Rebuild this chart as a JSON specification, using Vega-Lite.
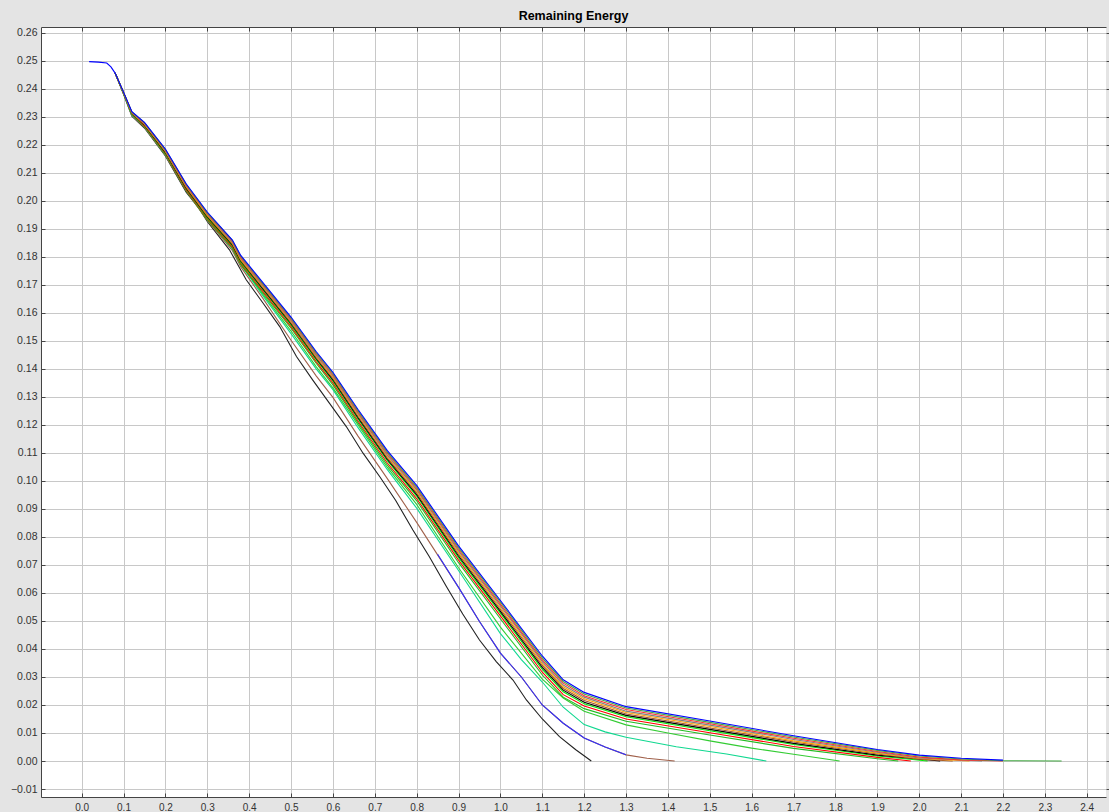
{
  "$schema": "https://vega.github.io/schema/vega-lite/v6.json",
  "width": 1065,
  "height": 770,
  "autosize": {"type": "none"},
  "padding": {"left": 41, "top": 27, "right": 3, "bottom": 15},
  "background": "#e4e4e4",
  "title": {"text": "Remaining Energy", "font": "Liberation Sans", "fontSize": 12.5, "fontWeight": "bold", "color": "#000000", "anchor": "middle", "offset": 4},
  "config": {
    "view": {"stroke": null, "fill": "#ffffff"},
    "axis": {"labelFont": "Liberation Sans", "labelFontSize": 10.5, "labelColor": "#333333", "domainColor": "#444444", "tickColor": "#444444", "gridColor": "#c8c8c8", "gridWidth": 1, "title": null, "labelOverlap": false, "labelFlush": false}
  },
  "data": {"values": [
    {"s":"a1","x":0.08,"y":0.2456},{"s":"a1","x":0.1,"y":0.2381},{"s":"a1","x":0.12,"y":0.2302},{"s":"a1","x":0.15,"y":0.226},{"s":"a1","x":0.2,"y":0.216},{"s":"a1","x":0.25,"y":0.203},{"s":"a1","x":0.28,"y":0.1974},{"s":"a1","x":0.3,"y":0.1926},{"s":"a1","x":0.353,"y":0.1825},{"s":"a1","x":0.393,"y":0.1718},{"s":"a1","x":0.433,"y":0.1635},{"s":"a1","x":0.473,"y":0.1551},{"s":"a1","x":0.513,"y":0.1444},{"s":"a1","x":0.552,"y":0.136},{"s":"a1","x":0.592,"y":0.1277},{"s":"a1","x":0.632,"y":0.1194},{"s":"a1","x":0.672,"y":0.1099},{"s":"a1","x":0.712,"y":0.1015},{"s":"a1","x":0.75,"y":0.093},{"s":"a1","x":0.791,"y":0.0825},{"s":"a1","x":0.83,"y":0.073},{"s":"a1","x":0.871,"y":0.0623},{"s":"a1","x":0.91,"y":0.0525},{"s":"a1","x":0.95,"y":0.0432},{"s":"a1","x":0.99,"y":0.0355},{"s":"a1","x":1.03,"y":0.0289},{"s":"a1","x":1.062,"y":0.0218},{"s":"a1","x":1.1,"y":0.015},{"s":"a1","x":1.141,"y":0.0087},{"s":"a1","x":1.18,"y":0.004},{"s":"a1","x":1.217,"y":0.0},
    {"s":"a2","x":0.08,"y":0.2456},{"s":"a2","x":0.1,"y":0.2382},{"s":"a2","x":0.12,"y":0.2304},{"s":"a2","x":0.15,"y":0.2262},{"s":"a2","x":0.2,"y":0.2162},{"s":"a2","x":0.25,"y":0.2034},{"s":"a2","x":0.3,"y":0.193},{"s":"a2","x":0.36,"y":0.1822},{"s":"a2","x":0.38,"y":0.1764},{"s":"a2","x":0.43,"y":0.1658},{"s":"a2","x":0.5,"y":0.1502},{"s":"a2","x":0.56,"y":0.1375},{"s":"a2","x":0.6,"y":0.1298},{"s":"a2","x":0.66,"y":0.116},{"s":"a2","x":0.73,"y":0.1008},{"s":"a2","x":0.8,"y":0.0852},{"s":"a2","x":0.9,"y":0.062},{"s":"a2","x":0.95,"y":0.0498},{"s":"a2","x":1.0,"y":0.0385},{"s":"a2","x":1.05,"y":0.03},{"s":"a2","x":1.1,"y":0.02},{"s":"a2","x":1.15,"y":0.0135},{"s":"a2","x":1.2,"y":0.0082},{"s":"a2","x":1.25,"y":0.005},{"s":"a2","x":1.3,"y":0.0022},{"s":"a2","x":1.35,"y":0.001},{"s":"a2","x":1.416,"y":0.0},
    {"s":"a3","x":0.85,"y":0.0738},{"s":"a3","x":0.9,"y":0.062},{"s":"a3","x":0.95,"y":0.0498},{"s":"a3","x":1.0,"y":0.0385},{"s":"a3","x":1.05,"y":0.03},{"s":"a3","x":1.1,"y":0.02},{"s":"a3","x":1.15,"y":0.0135},{"s":"a3","x":1.2,"y":0.0082},{"s":"a3","x":1.25,"y":0.005},{"s":"a3","x":1.3,"y":0.0022},
    {"s":"a4","x":0.08,"y":0.2456},{"s":"a4","x":0.1,"y":0.2383},{"s":"a4","x":0.12,"y":0.2306},{"s":"a4","x":0.15,"y":0.2265},{"s":"a4","x":0.2,"y":0.2165},{"s":"a4","x":0.25,"y":0.2038},{"s":"a4","x":0.3,"y":0.1936},{"s":"a4","x":0.36,"y":0.1828},{"s":"a4","x":0.38,"y":0.1772},{"s":"a4","x":0.43,"y":0.1667},{"s":"a4","x":0.5,"y":0.1526},{"s":"a4","x":0.56,"y":0.14},{"s":"a4","x":0.6,"y":0.1326},{"s":"a4","x":0.66,"y":0.119},{"s":"a4","x":0.73,"y":0.104},{"s":"a4","x":0.8,"y":0.0903},{"s":"a4","x":0.9,"y":0.068},{"s":"a4","x":1.0,"y":0.0455},{"s":"a4","x":1.05,"y":0.0362},{"s":"a4","x":1.1,"y":0.0282},{"s":"a4","x":1.15,"y":0.0192},{"s":"a4","x":1.2,"y":0.013},{"s":"a4","x":1.25,"y":0.0104},{"s":"a4","x":1.3,"y":0.0085},{"s":"a4","x":1.42,"y":0.0051},{"s":"a4","x":1.54,"y":0.0025},{"s":"a4","x":1.635,"y":0.0},
    {"s":"a5","x":0.08,"y":0.2456},{"s":"a5","x":0.1,"y":0.2384},{"s":"a5","x":0.12,"y":0.2308},{"s":"a5","x":0.15,"y":0.2268},{"s":"a5","x":0.2,"y":0.2168},{"s":"a5","x":0.25,"y":0.2042},{"s":"a5","x":0.3,"y":0.1942},{"s":"a5","x":0.36,"y":0.1834},{"s":"a5","x":0.38,"y":0.1775},{"s":"a5","x":0.43,"y":0.1672},{"s":"a5","x":0.5,"y":0.1535},{"s":"a5","x":0.56,"y":0.1408},{"s":"a5","x":0.6,"y":0.1332},{"s":"a5","x":0.66,"y":0.12},{"s":"a5","x":0.73,"y":0.1048},{"s":"a5","x":0.8,"y":0.0916},{"s":"a5","x":0.9,"y":0.069},{"s":"a5","x":1.0,"y":0.0478},{"s":"a5","x":1.1,"y":0.0292},{"s":"a5","x":1.15,"y":0.0225},{"s":"a5","x":1.2,"y":0.0178},{"s":"a5","x":1.3,"y":0.0129},{"s":"a5","x":1.4,"y":0.01},{"s":"a5","x":1.5,"y":0.0072},{"s":"a5","x":1.6,"y":0.0046},{"s":"a5","x":1.7,"y":0.0024},{"s":"a5","x":1.81,"y":0.0},
    {"s":"b01","x":0.08,"y":0.2456},{"s":"b01","x":0.1,"y":0.2384},{"s":"b01","x":0.12,"y":0.2308},{"s":"b01","x":0.15,"y":0.2265},{"s":"b01","x":0.2,"y":0.2165},{"s":"b01","x":0.25,"y":0.2035},{"s":"b01","x":0.3,"y":0.1932},{"s":"b01","x":0.36,"y":0.183},{"s":"b01","x":0.38,"y":0.1771},{"s":"b01","x":0.43,"y":0.1677},{"s":"b01","x":0.5,"y":0.1545},{"s":"b01","x":0.56,"y":0.142},{"s":"b01","x":0.6,"y":0.1343},{"s":"b01","x":0.66,"y":0.1207},{"s":"b01","x":0.73,"y":0.1056},{"s":"b01","x":0.8,"y":0.0929},{"s":"b01","x":0.9,"y":0.0708},{"s":"b01","x":1.0,"y":0.0508},{"s":"b01","x":1.1,"y":0.0307},{"s":"b01","x":1.15,"y":0.0228},{"s":"b01","x":1.2,"y":0.0187},{"s":"b01","x":1.3,"y":0.0142},{"s":"b01","x":1.5,"y":0.0093},{"s":"b01","x":1.7,"y":0.0045},{"s":"b01","x":1.9,"y":0.0008},{"s":"b01","x":1.95,"y":0.0},
    {"s":"b02","x":0.08,"y":0.2456},{"s":"b02","x":0.1,"y":0.2385},{"s":"b02","x":0.12,"y":0.231},{"s":"b02","x":0.15,"y":0.2267},{"s":"b02","x":0.2,"y":0.2168},{"s":"b02","x":0.25,"y":0.2039},{"s":"b02","x":0.3,"y":0.1936},{"s":"b02","x":0.36,"y":0.1835},{"s":"b02","x":0.38,"y":0.1776},{"s":"b02","x":0.43,"y":0.1682},{"s":"b02","x":0.5,"y":0.1551},{"s":"b02","x":0.56,"y":0.1426},{"s":"b02","x":0.6,"y":0.135},{"s":"b02","x":0.66,"y":0.1214},{"s":"b02","x":0.73,"y":0.1064},{"s":"b02","x":0.8,"y":0.0937},{"s":"b02","x":0.9,"y":0.0717},{"s":"b02","x":1.0,"y":0.0518},{"s":"b02","x":1.1,"y":0.0317},{"s":"b02","x":1.15,"y":0.0237},{"s":"b02","x":1.2,"y":0.0196},{"s":"b02","x":1.3,"y":0.015},{"s":"b02","x":1.5,"y":0.0101},{"s":"b02","x":1.7,"y":0.0052},{"s":"b02","x":1.9,"y":0.0013},{"s":"b02","x":1.98,"y":0.0},
    {"s":"b03","x":0.08,"y":0.2456},{"s":"b03","x":0.1,"y":0.2385},{"s":"b03","x":0.12,"y":0.2311},{"s":"b03","x":0.15,"y":0.227},{"s":"b03","x":0.2,"y":0.2171},{"s":"b03","x":0.25,"y":0.2043},{"s":"b03","x":0.3,"y":0.194},{"s":"b03","x":0.36,"y":0.184},{"s":"b03","x":0.38,"y":0.1781},{"s":"b03","x":0.43,"y":0.1688},{"s":"b03","x":0.5,"y":0.1557},{"s":"b03","x":0.56,"y":0.1433},{"s":"b03","x":0.6,"y":0.1357},{"s":"b03","x":0.66,"y":0.1221},{"s":"b03","x":0.73,"y":0.1072},{"s":"b03","x":0.8,"y":0.0946},{"s":"b03","x":0.9,"y":0.0726},{"s":"b03","x":1.0,"y":0.0528},{"s":"b03","x":1.1,"y":0.0327},{"s":"b03","x":1.15,"y":0.0247},{"s":"b03","x":1.2,"y":0.0204},{"s":"b03","x":1.3,"y":0.0158},{"s":"b03","x":1.5,"y":0.0108},{"s":"b03","x":1.7,"y":0.0059},{"s":"b03","x":1.9,"y":0.0018},{"s":"b03","x":2.02,"y":0.0},
    {"s":"b04","x":0.08,"y":0.2456},{"s":"b04","x":0.1,"y":0.2386},{"s":"b04","x":0.12,"y":0.2312},{"s":"b04","x":0.15,"y":0.2271},{"s":"b04","x":0.2,"y":0.2173},{"s":"b04","x":0.25,"y":0.2045},{"s":"b04","x":0.3,"y":0.1943},{"s":"b04","x":0.36,"y":0.1843},{"s":"b04","x":0.38,"y":0.1785},{"s":"b04","x":0.43,"y":0.1691},{"s":"b04","x":0.5,"y":0.1561},{"s":"b04","x":0.56,"y":0.1437},{"s":"b04","x":0.6,"y":0.1361},{"s":"b04","x":0.66,"y":0.1226},{"s":"b04","x":0.73,"y":0.1077},{"s":"b04","x":0.8,"y":0.0951},{"s":"b04","x":0.9,"y":0.0732},{"s":"b04","x":1.0,"y":0.0534},{"s":"b04","x":1.1,"y":0.0334},{"s":"b04","x":1.15,"y":0.0253},{"s":"b04","x":1.2,"y":0.021},{"s":"b04","x":1.3,"y":0.0163},{"s":"b04","x":1.5,"y":0.0113},{"s":"b04","x":1.7,"y":0.0063},{"s":"b04","x":1.9,"y":0.0021},{"s":"b04","x":2.05,"y":0.0},
    {"s":"b05","x":0.08,"y":0.2456},{"s":"b05","x":0.1,"y":0.2386},{"s":"b05","x":0.12,"y":0.2313},{"s":"b05","x":0.15,"y":0.2273},{"s":"b05","x":0.2,"y":0.2175},{"s":"b05","x":0.25,"y":0.2048},{"s":"b05","x":0.3,"y":0.1946},{"s":"b05","x":0.36,"y":0.1846},{"s":"b05","x":0.38,"y":0.1788},{"s":"b05","x":0.43,"y":0.1695},{"s":"b05","x":0.5,"y":0.1565},{"s":"b05","x":0.56,"y":0.1441},{"s":"b05","x":0.6,"y":0.1366},{"s":"b05","x":0.66,"y":0.1231},{"s":"b05","x":0.73,"y":0.1082},{"s":"b05","x":0.8,"y":0.0957},{"s":"b05","x":0.9,"y":0.0738},{"s":"b05","x":1.0,"y":0.0541},{"s":"b05","x":1.1,"y":0.0341},{"s":"b05","x":1.15,"y":0.0259},{"s":"b05","x":1.2,"y":0.0216},{"s":"b05","x":1.3,"y":0.0168},{"s":"b05","x":1.5,"y":0.0118},{"s":"b05","x":1.7,"y":0.0068},{"s":"b05","x":1.9,"y":0.0025},{"s":"b05","x":2.0,"y":0.0006},{"s":"b05","x":2.08,"y":0.0},
    {"s":"b06","x":0.08,"y":0.2456},{"s":"b06","x":0.1,"y":0.2386},{"s":"b06","x":0.12,"y":0.2314},{"s":"b06","x":0.15,"y":0.2274},{"s":"b06","x":0.2,"y":0.2177},{"s":"b06","x":0.25,"y":0.205},{"s":"b06","x":0.3,"y":0.1949},{"s":"b06","x":0.36,"y":0.1849},{"s":"b06","x":0.38,"y":0.1791},{"s":"b06","x":0.43,"y":0.1699},{"s":"b06","x":0.5,"y":0.1569},{"s":"b06","x":0.56,"y":0.1445},{"s":"b06","x":0.6,"y":0.137},{"s":"b06","x":0.66,"y":0.1236},{"s":"b06","x":0.73,"y":0.1087},{"s":"b06","x":0.8,"y":0.0962},{"s":"b06","x":0.9,"y":0.0744},{"s":"b06","x":1.0,"y":0.0547},{"s":"b06","x":1.1,"y":0.0348},{"s":"b06","x":1.15,"y":0.0265},{"s":"b06","x":1.2,"y":0.0222},{"s":"b06","x":1.3,"y":0.0173},{"s":"b06","x":1.5,"y":0.0123},{"s":"b06","x":1.7,"y":0.0072},{"s":"b06","x":1.9,"y":0.0028},{"s":"b06","x":2.0,"y":0.0009},{"s":"b06","x":2.12,"y":0.0},
    {"s":"b07","x":0.08,"y":0.2456},{"s":"b07","x":0.1,"y":0.2387},{"s":"b07","x":0.12,"y":0.2315},{"s":"b07","x":0.15,"y":0.2276},{"s":"b07","x":0.2,"y":0.2179},{"s":"b07","x":0.25,"y":0.2053},{"s":"b07","x":0.3,"y":0.1952},{"s":"b07","x":0.36,"y":0.1852},{"s":"b07","x":0.38,"y":0.1795},{"s":"b07","x":0.43,"y":0.1702},{"s":"b07","x":0.5,"y":0.1573},{"s":"b07","x":0.56,"y":0.1449},{"s":"b07","x":0.6,"y":0.1375},{"s":"b07","x":0.66,"y":0.1241},{"s":"b07","x":0.73,"y":0.1092},{"s":"b07","x":0.8,"y":0.0968},{"s":"b07","x":0.9,"y":0.075},{"s":"b07","x":1.0,"y":0.0554},{"s":"b07","x":1.1,"y":0.0355},{"s":"b07","x":1.15,"y":0.0271},{"s":"b07","x":1.2,"y":0.0228},{"s":"b07","x":1.3,"y":0.0178},{"s":"b07","x":1.5,"y":0.0128},{"s":"b07","x":1.7,"y":0.0077},{"s":"b07","x":1.9,"y":0.0031},{"s":"b07","x":2.0,"y":0.0011},{"s":"b07","x":2.15,"y":0.0},
    {"s":"b08","x":0.08,"y":0.2456},{"s":"b08","x":0.1,"y":0.2387},{"s":"b08","x":0.12,"y":0.2316},{"s":"b08","x":0.15,"y":0.2277},{"s":"b08","x":0.2,"y":0.2181},{"s":"b08","x":0.25,"y":0.2055},{"s":"b08","x":0.3,"y":0.1954},{"s":"b08","x":0.36,"y":0.1856},{"s":"b08","x":0.38,"y":0.1798},{"s":"b08","x":0.43,"y":0.1706},{"s":"b08","x":0.5,"y":0.1577},{"s":"b08","x":0.56,"y":0.1454},{"s":"b08","x":0.6,"y":0.1379},{"s":"b08","x":0.66,"y":0.1245},{"s":"b08","x":0.73,"y":0.1098},{"s":"b08","x":0.8,"y":0.0973},{"s":"b08","x":0.9,"y":0.0756},{"s":"b08","x":1.0,"y":0.056},{"s":"b08","x":1.1,"y":0.0361},{"s":"b08","x":1.15,"y":0.0278},{"s":"b08","x":1.2,"y":0.0233},{"s":"b08","x":1.3,"y":0.0184},{"s":"b08","x":1.5,"y":0.0133},{"s":"b08","x":1.7,"y":0.0081},{"s":"b08","x":1.9,"y":0.0034},{"s":"b08","x":2.0,"y":0.0014},{"s":"b08","x":2.1,"y":0.0004},{"s":"b08","x":2.2,"y":0.0},
    {"s":"b09","x":0.08,"y":0.2456},{"s":"b09","x":0.1,"y":0.2388},{"s":"b09","x":0.12,"y":0.2317},{"s":"b09","x":0.15,"y":0.2279},{"s":"b09","x":0.2,"y":0.2183},{"s":"b09","x":0.25,"y":0.2058},{"s":"b09","x":0.3,"y":0.1957},{"s":"b09","x":0.36,"y":0.1859},{"s":"b09","x":0.38,"y":0.1802},{"s":"b09","x":0.43,"y":0.1709},{"s":"b09","x":0.5,"y":0.1581},{"s":"b09","x":0.56,"y":0.1458},{"s":"b09","x":0.6,"y":0.1384},{"s":"b09","x":0.66,"y":0.125},{"s":"b09","x":0.73,"y":0.1103},{"s":"b09","x":0.8,"y":0.0978},{"s":"b09","x":0.9,"y":0.0762},{"s":"b09","x":1.0,"y":0.0567},{"s":"b09","x":1.1,"y":0.0368},{"s":"b09","x":1.15,"y":0.0284},{"s":"b09","x":1.2,"y":0.0239},{"s":"b09","x":1.3,"y":0.0189},{"s":"b09","x":1.5,"y":0.0138},{"s":"b09","x":1.7,"y":0.0086},{"s":"b09","x":1.9,"y":0.0038},{"s":"b09","x":2.0,"y":0.0018},{"s":"b09","x":2.1,"y":0.0007},{"s":"b09","x":2.2,"y":0.0001},{"s":"b09","x":2.34,"y":0.0},
    {"s":"b10","x":0.018,"y":0.2497},{"s":"b10","x":0.04,"y":0.2495},{"s":"b10","x":0.06,"y":0.2492},{"s":"b10","x":0.07,"y":0.2478},{"s":"b10","x":0.08,"y":0.2456},{"s":"b10","x":0.1,"y":0.2388},{"s":"b10","x":0.12,"y":0.2318},{"s":"b10","x":0.15,"y":0.228},{"s":"b10","x":0.2,"y":0.2185},{"s":"b10","x":0.25,"y":0.206},{"s":"b10","x":0.3,"y":0.196},{"s":"b10","x":0.36,"y":0.186},{"s":"b10","x":0.38,"y":0.1805},{"s":"b10","x":0.43,"y":0.1713},{"s":"b10","x":0.5,"y":0.1585},{"s":"b10","x":0.56,"y":0.1462},{"s":"b10","x":0.6,"y":0.1388},{"s":"b10","x":0.66,"y":0.1255},{"s":"b10","x":0.73,"y":0.1108},{"s":"b10","x":0.8,"y":0.0984},{"s":"b10","x":0.9,"y":0.0768},{"s":"b10","x":1.0,"y":0.0573},{"s":"b10","x":1.1,"y":0.0375},{"s":"b10","x":1.15,"y":0.029},{"s":"b10","x":1.2,"y":0.0245},{"s":"b10","x":1.3,"y":0.0194},{"s":"b10","x":1.5,"y":0.0143},{"s":"b10","x":1.7,"y":0.009},{"s":"b10","x":1.9,"y":0.0041},{"s":"b10","x":2.0,"y":0.0021},{"s":"b10","x":2.1,"y":0.001},{"s":"b10","x":2.2,"y":0.0003}
  ]},
  "layer": [
    {
      "mark": {"type": "line", "strokeWidth": 1.1, "clip": true},
      "encoding": {
        "x": {"field": "x", "type": "quantitative", "scale": {"domain": [-0.097, 2.446], "nice": false, "zero": false},
              "axis": {"orient": "bottom", "values": [0,0.1,0.2,0.3,0.4,0.5,0.6,0.7,0.8,0.9,1,1.1,1.2,1.3,1.4,1.5,1.6,1.7,1.8,1.9,2,2.1,2.2,2.3,2.4], "format": ".1f", "grid": true, "tickSize": -4, "labelPadding": 9, "labelFontSize": 10}},
        "y": {"field": "y", "type": "quantitative", "scale": {"domain": [-0.01285, 0.26205], "nice": false, "zero": false},
              "axis": {"orient": "left", "values": [-0.01,0,0.01,0.02,0.03,0.04,0.05,0.06,0.07,0.08,0.09,0.1,0.11,0.12,0.13,0.14,0.15,0.16,0.17,0.18,0.19,0.2,0.21,0.22,0.23,0.24,0.25,0.26], "format": ".2f", "grid": true, "tickSize": -4, "labelPadding": 8}},
        "color": {"field": "s", "type": "nominal", "legend": null,
                  "scale": {"domain": ["a1","a2","a3","a4","a5","b01","b02","b03","b04","b05","b06","b07","b08","b09","b10"],
                            "range": ["#222222","#a0604a","#3030ff","#10d890","#33cc33","#22bb22","#ff0000","#00ee00","#000000","#a0522d","#ffa500","#808080","#ff3030","#44aa44","#0000ff"]}}
      }
    },
    {
      "mark": {"type": "line", "opacity": 0},
      "encoding": {
        "x": {"field": "x", "type": "quantitative", "scale": {"domain": [-0.097, 2.446], "nice": false, "zero": false},
              "axis": {"orient": "top", "labels": false, "grid": false, "tickSize": -4, "values": [0,0.1,0.2,0.3,0.4,0.5,0.6,0.7,0.8,0.9,1,1.1,1.2,1.3,1.4,1.5,1.6,1.7,1.8,1.9,2,2.1,2.2,2.3,2.4]}},
        "y": {"field": "y", "type": "quantitative", "scale": {"domain": [-0.01285, 0.26205], "nice": false, "zero": false},
              "axis": {"orient": "right", "labels": false, "grid": false, "domain": false, "tickSize": 3, "values": [-0.01,0,0.01,0.02,0.03,0.04,0.05,0.06,0.07,0.08,0.09,0.1,0.11,0.12,0.13,0.14,0.15,0.16,0.17,0.18,0.19,0.2,0.21,0.22,0.23,0.24,0.25,0.26]}},
        "detail": {"field": "s", "type": "nominal"}
      }
    }
  ],
  "resolve": {"axis": {"x": "independent", "y": "independent"}}
}
